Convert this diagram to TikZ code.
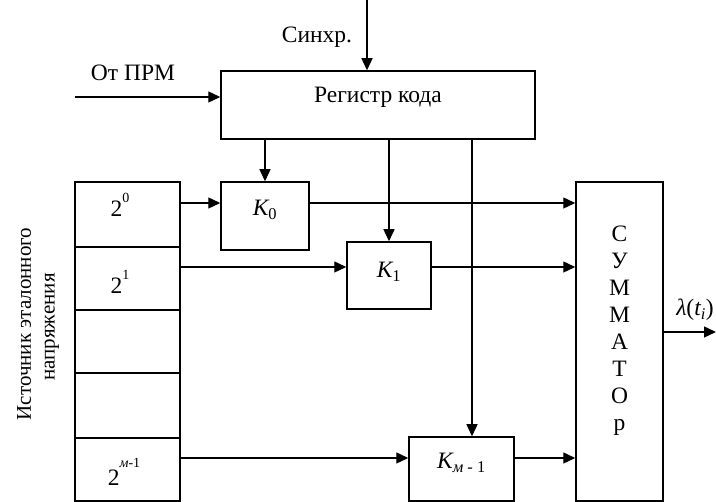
\documentclass[tikz,border=0pt]{standalone}
\usepackage{fontspec}
\setmainfont{Liberation Serif}
\usetikzlibrary{arrows.meta,calc}
\begin{document}
\begin{tikzpicture}[x=1pt,y=-1pt,
  box/.style={draw,line width=1.5pt,inner sep=0pt,minimum width=#1},
  lbl/.style={inner sep=0pt,font=\fontsize{23.5}{27}\selectfont},
  sup/.style={},
  wire/.style={line width=1.4pt},
  arr/.style={wire,-{Triangle[length=12pt,width=11pt]}}]
\useasboundingbox (0,0) rectangle (716,502);
% register
\node[box=314, minimum height=68] (reg) at (378,105) {};
\node[lbl] (regt) at (378,97) {Регистр кода};
% left stack
\node[box=105, minimum height=65] (c1) at (127.5,214.5) {};
\node[box=105, minimum height=63] (c2) at (127.5,278.5) {};
\node[box=105, minimum height=63] (c3) at (127.5,341.5) {};
\node[box=105, minimum height=65] (c4) at (127.5,405.5) {};
\node[box=105, minimum height=63] (c5) at (127.5,469.5) {};
\node[lbl] (l1) at (120,205) {2\raisebox{1.3ex}{\fontsize{14}{16}\selectfont 0}};
\node[lbl] (l2) at (120,282) {2\raisebox{1.3ex}{\fontsize{14}{16}\selectfont 1}};
\node[lbl] (l5) at (124,472) {2\raisebox{1.6ex}{\fontsize{14}{16}\selectfont\itshape м\upshape -1}};
% side label
\node[lbl, rotate=90, font=\fontsize{21}{25}\selectfont] (src1) at (24,324) {Источник эталонного};
\node[lbl, rotate=90, font=\fontsize{21}{25}\selectfont] (src2) at (52,327) {напряжения};
% keys
\node[box=88, minimum height=68] (k0) at (265,216) {};
\node[lbl] (k0t) at (265,210) {\itshape K\upshape\textsubscript{0}};
\node[box=84, minimum height=67] (k1) at (389,275.5) {};
\node[lbl] (k1t) at (389,272) {\itshape K\upshape\textsubscript{1}};
\node[box=105, minimum height=64] (km) at (461.5,469) {};
\node[lbl] (kmt) at (461.5,463) {\itshape K\textsubscript{м\upshape\ - 1}};
% summator
\node[box=87, minimum height=319] (sum) at (619.5,341.5) {};
\node[lbl, align=center, font=\fontsize{23.5}{27}\selectfont] (sumt) at (619.5,331) {С\\У\\М\\М\\А\\Т\\О\\р};
% texts
\node[lbl] (sync) at (317,37) {Синхр.};
\node[lbl] (prm) at (133,73) {От ПРМ};
\node[lbl, anchor=base] (lam) at (695,316) {\itshape λ\upshape(\itshape t\textsubscript{i}\upshape)};
% coordinates
\coordinate (top) at (367,0);
\coordinate (inl) at (75,97);
\coordinate (out) at (716,332);
\coordinate (y0) at (0,203);
\coordinate (y1) at (0,267);
\coordinate (ym) at (0,458);
\coordinate (xm) at (472,0);
% connectors
\draw[arr] (top) -- (top |- reg.north);
\draw[arr] (inl) -- (reg.west |- inl);
\draw[arr] (k0.north |- reg.south) -- (k0.north);
\draw[arr] (k1.north |- reg.south) -- (k1.north);
\draw[arr] (xm |- reg.south) -- (xm |- km.north);
\draw[arr] (c1.east |- y0) -- (k0.west |- y0);
\draw[arr] (c2.east |- y1) -- (k1.west |- y1);
\draw[arr] (c5.east |- ym) -- (km.west |- ym);
\draw[arr] (k0.east |- y0) -- (sum.west |- y0);
\draw[arr] (k1.east |- y1) -- (sum.west |- y1);
\draw[arr] (km.east |- ym) -- (sum.west |- ym);
\draw[arr] (sum.east |- out) -- (out);
\end{tikzpicture}
\end{document}
